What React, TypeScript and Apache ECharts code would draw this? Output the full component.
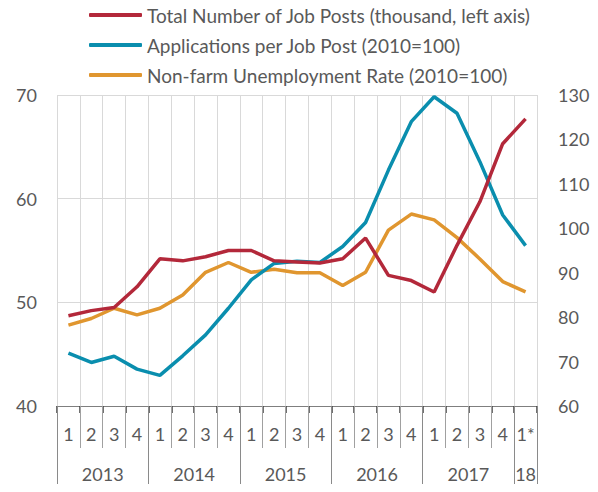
import React, { useEffect, useRef } from "react";
import * as echarts from "echarts";

const quarterLabels = ["1","2","3","4","1","2","3","4","1","2","3","4","1","2","3","4","1","2","3","4","1*"];
const yearLabels = ["2013", "2014", "2015", "2016", "2017", "18"];
const yearSizes = [4, 4, 4, 4, 4, 1];

const jobPosts = [48.7, 49.2, 49.5, 51.5, 54.2, 54.0, 54.4, 55.0, 55.0, 54.0, 53.9, 53.8, 54.2, 56.2, 52.6, 52.1, 51.0, 55.5, 59.7, 65.3, 67.7];
const appsPerPost = [71.9, 69.8, 71.2, 68.3, 66.9, 71.3, 76.0, 82.0, 88.4, 92.1, 92.6, 92.3, 95.9, 101.3, 113.1, 124.0, 129.6, 125.9, 115.0, 103.0, 96.1];
const unemployment = [78.2, 79.7, 82.0, 80.5, 82.0, 85.0, 90.1, 92.3, 90.1, 90.8, 90.0, 90.0, 87.1, 90.1, 99.6, 103.2, 101.9, 97.9, 93.1, 88.0, 85.7];

const seriesNames = [
  "Total Number of Job Posts (thousand, left axis)",
  "Applications per Job Post (2010=100)",
  "Non-farm Unemployment Rate (2010=100)",
];

const FONT = "Lato";
const TEXT = "#595959";

export default function App() {
  const ref = useRef<HTMLDivElement>(null);
  useEffect(() => {
    if (!ref.current) return;
    const chart = echarts.init(ref.current, null, { renderer: "svg" });
    const boundaries: number[] = [0];
    const centers: number[] = [];
    let acc = 0;
    yearSizes.forEach((s) => {
      centers.push(acc + s / 2);
      acc += s;
      boundaries.push(acc);
    });
    const total = quarterLabels.length;
    chart.setOption({
      animation: false,
      textStyle: { fontFamily: FONT },
      legend: {
        orient: "vertical",
        left: 84,
        top: 0,
        itemWidth: 53,
        itemHeight: 4,
        itemGap: 10,
        icon: "roundRect",
        textStyle: { color: TEXT, fontSize: 19, fontFamily: FONT, lineHeight: 20 },
        data: seriesNames,
      },
      grid: { left: 57, right: 61, top: 95, bottom: 86, containLabel: false },
      xAxis: [
        {
          type: "category",
          data: quarterLabels,
          position: "bottom",
          boundaryGap: true,
          axisLine: { show: true, lineStyle: { color: "#7f7f7f", width: 1 } },
          axisTick: { show: true, interval: 0, length: 7, lineStyle: { color: "#404040", width: 1.5 } },
          axisLabel: { interval: 0, color: TEXT, fontSize: 18, fontFamily: FONT, margin: 19 },
          splitLine: { show: true, interval: 0, lineStyle: { color: "#d9d9d9", width: 1 } },
        },
        {
          type: "category",
          data: quarterLabels,
          position: "bottom",
          boundaryGap: true,
          axisLine: { show: false },
          axisTick: { show: true, interval: 0, length: 42, lineStyle: { color: "#a0a0a0", width: 1 } },
          axisLabel: { show: false },
          splitLine: { show: false },
        },
        {
          type: "value",
          min: 0,
          max: total,
          position: "bottom",
          axisLine: { show: false },
          axisTick: { show: true, customValues: boundaries, length: 86, lineStyle: { color: "#8a8a8a", width: 1 } },
          axisLabel: {
            show: true,
            customValues: centers,
            color: TEXT,
            fontSize: 18,
            fontFamily: FONT,
            margin: 59,
            formatter: (v: number) => {
              const i = centers.findIndex((c) => Math.abs(c - v) < 1e-6);
              return i >= 0 ? yearLabels[i] : "";
            },
          },
          splitLine: { show: false },
        },
      ],
      yAxis: [
        {
          type: "value",
          min: 40,
          max: 70,
          interval: 10,
          position: "left",
          axisLine: { show: false },
          axisTick: { show: false },
          axisLabel: { color: TEXT, fontSize: 18, fontFamily: FONT, margin: 20 },
          splitLine: { show: true, lineStyle: { color: "#d9d9d9", width: 1 } },
        },
        {
          type: "value",
          min: 60,
          max: 130,
          interval: 10,
          position: "right",
          axisLine: { show: false },
          axisTick: { show: false },
          axisLabel: { color: TEXT, fontSize: 18, fontFamily: FONT, margin: 21 },
          splitLine: { show: false },
        },
      ],
      series: [
        {
          name: seriesNames[0],
          type: "line",
          yAxisIndex: 0,
          data: jobPosts,
          symbol: "none",
          itemStyle: { color: "#B3283A" },
          lineStyle: { color: "#B3283A", width: 3.5 },
          z: 3,
        },
        {
          name: seriesNames[1],
          type: "line",
          yAxisIndex: 1,
          data: appsPerPost,
          symbol: "none",
          itemStyle: { color: "#0A8EAE" },
          lineStyle: { color: "#0A8EAE", width: 3.5 },
          z: 2,
        },
        {
          name: seriesNames[2],
          type: "line",
          yAxisIndex: 1,
          data: unemployment,
          symbol: "none",
          itemStyle: { color: "#E0962F" },
          lineStyle: { color: "#E0962F", width: 3.5 },
          z: 1,
        },
      ],
    });
    return () => chart.dispose();
  }, []);
  return <div ref={ref} style={{ width: 598, height: 492, margin: -8 }} />;
}
